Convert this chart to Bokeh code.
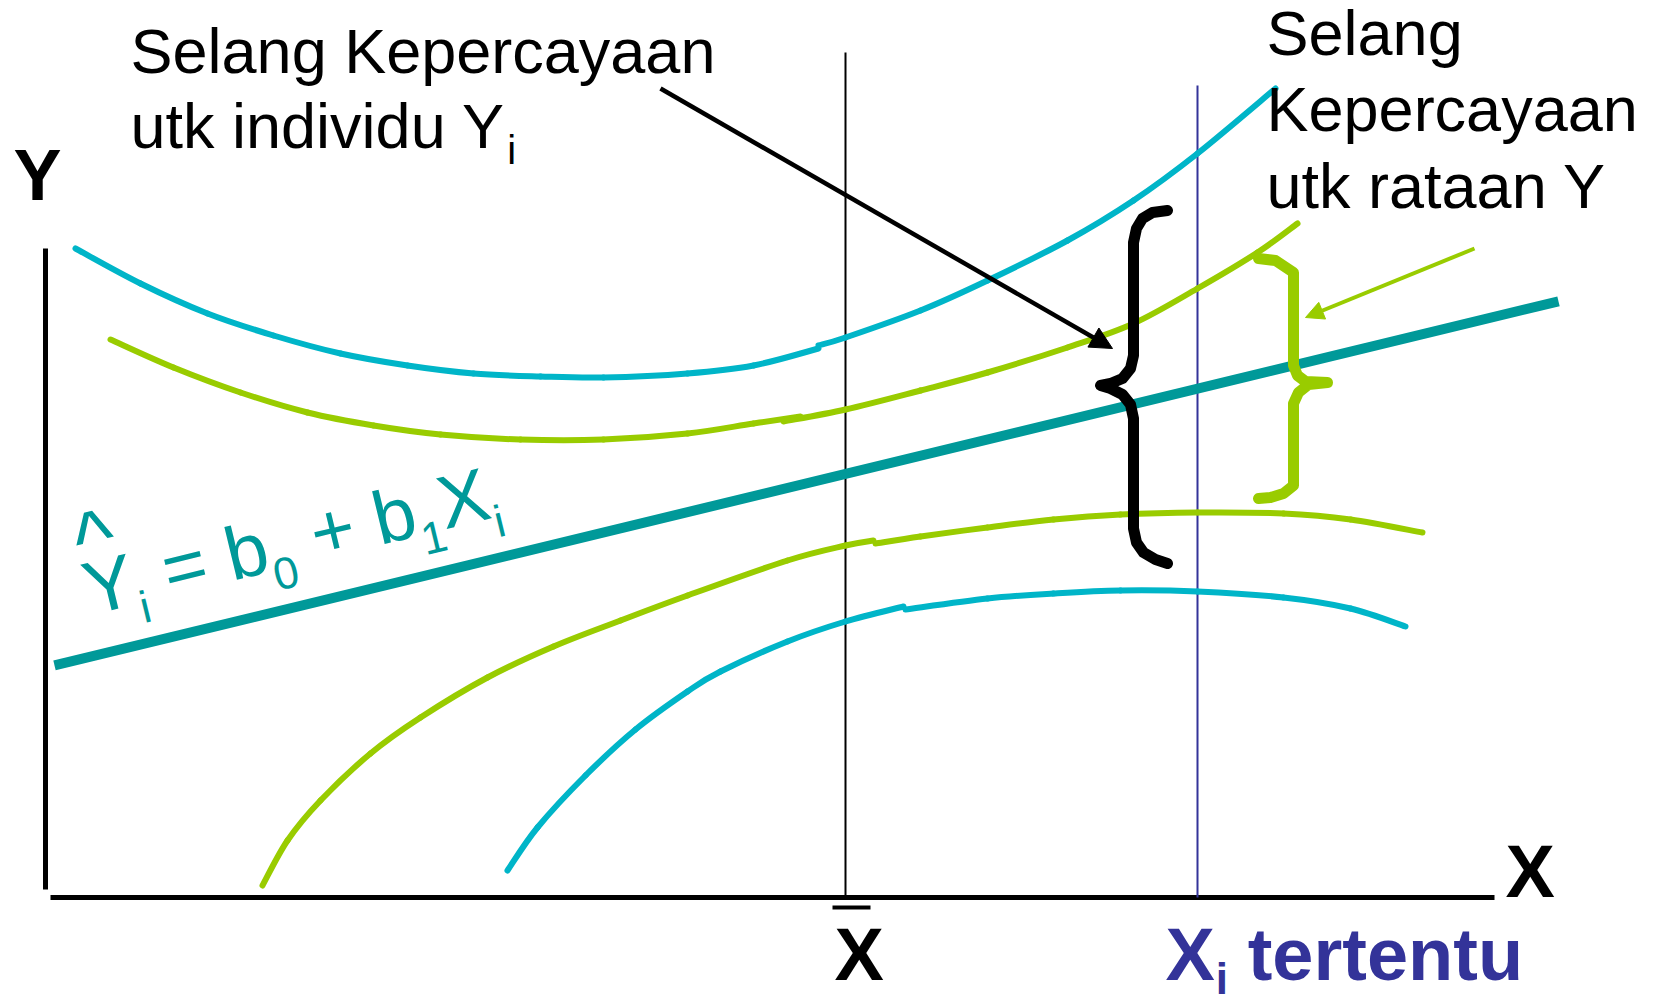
import math
from bokeh.plotting import figure
from bokeh.models import Range1d, Arrow, NormalHead, ColumnDataSource
from bokeh.core.properties import value
from bokeh.embed import file_html
from bokeh.resources import INLINE

FONT = "Liberation Sans"
CYAN = "#00B5C8"
GREEN = "#99CC00"
TEAL = "#009999"
NAVY = "#333399"

# ---- schematic data (origin = where the two axes meet, y upward) ----
# fitted line  Y^ = b0 + b1 X
b0, b1 = 230.0, 0.242
fit_x = [9, 1513]

x_mean = 800          # X-bar
x_given = 1152        # the chosen X_i
x_mean_top = 845
x_given_top = 812

y_axis_y = [8, 649]
x_axis_x = [5, 1449]

# prediction band (individual Y), drawn in two pieces each
pi_up_a_x = [30, 95, 162, 228, 295, 362, 428, 495, 558, 642, 708, 773]
pi_up_a_y = [649, 614, 584, 562, 544, 532, 524, 521, 520, 524, 532, 549]
pi_up_b_x = [773, 800, 875, 942, 1022, 1088, 1152, 1230]
pi_up_b_y = [552, 560, 587, 617, 657, 697, 744, 809]
pi_lo_a_x = [462, 492, 540, 590, 642, 675, 742, 800, 858]
pi_lo_a_y = [27, 70, 122, 168, 206, 226, 256, 276, 291]
pi_lo_b_x = [860, 942, 1008, 1075, 1152, 1238, 1305, 1360]
pi_lo_b_y = [288, 299, 304, 307, 306, 300, 289, 271]

# confidence band (mean Y)
ci_up_a_x = [65, 128, 195, 262, 328, 395, 475, 558, 642, 708, 755]
ci_up_a_y = [558, 530, 505, 485, 472, 463, 458, 458, 464, 474, 481]
ci_up_b_x = [738, 800, 875, 942, 1022, 1088, 1152, 1212, 1252]
ci_up_b_y = [476, 488, 507, 525, 550, 574, 609, 645, 674]
ci_lo_a_x = [217, 242, 275, 325, 375, 442, 508, 575, 642, 742, 800, 828]
ci_lo_a_y = [12, 57, 97, 144, 180, 220, 251, 277, 302, 337, 352, 357]
ci_lo_b_x = [830, 875, 942, 1008, 1075, 1152, 1238, 1305, 1377]
ci_lo_b_y = [354, 361, 370, 378, 383, 385, 384, 378, 365]

# braces marking the two intervals at X_i
brace_pi_x = [1122, 1107, 1097, 1091, 1088, 1088, 1085, 1077, 1065, 1055,
              1065, 1077, 1085, 1088, 1088, 1091, 1098, 1110, 1122]
brace_pi_y = [687, 685, 679, 669, 655, 542, 529, 519, 514, 512,
              509, 503, 493, 479, 369, 355, 345, 338, 334]
brace_ci_x = [1213, 1230, 1248, 1248, 1252, 1260, 1282, 1263, 1253, 1248, 1248, 1238, 1225, 1213]
brace_ci_y = [639, 637, 625, 532, 522, 516, 515, 513, 505, 494, 412, 404, 400, 399]

# callout arrows (start, end)
arrow_pi = (615, 809, 1067, 549)
arrow_ci = (1429, 649, 1260, 580)

p = figure(width=1654, height=995, x_range=Range1d(-45, 1609), y_range=Range1d(-98, 897),
           output_backend="svg", toolbar_location=None, min_border=0,
           x_axis_type=None, y_axis_type=None)
p.grid.visible = False
p.outline_line_color = None
p.background_fill_color = "white"
p.border_fill_color = "white"


def smooth(xs, ys, color, width):
    """Draw a smooth (Catmull-Rom style) curve through the given points."""
    n = len(xs)
    x0, y0, x1, y1, cx0, cy0, cx1, cy1 = ([] for _ in range(8))
    for i in range(n - 1):
        a = max(i - 1, 0)
        d = min(i + 2, n - 1)
        x0.append(xs[i]); y0.append(ys[i])
        x1.append(xs[i + 1]); y1.append(ys[i + 1])
        cx0.append(xs[i] + (xs[i + 1] - xs[a]) / 6)
        cy0.append(ys[i] + (ys[i + 1] - ys[a]) / 6)
        cx1.append(xs[i + 1] - (xs[d] - xs[i]) / 6)
        cy1.append(ys[i + 1] - (ys[d] - ys[i]) / 6)
    p.bezier(x0=x0, y0=y0, x1=x1, y1=y1, cx0=cx0, cy0=cy0, cx1=cx1, cy1=cy1,
             line_color=color, line_width=width, line_cap="round")


# axes
p.line([0, 0], y_axis_y, line_color="black", line_width=5)
p.line(x_axis_x, [0, 0], line_color="black", line_width=5)

# reference verticals
p.line([x_mean, x_mean], [0, x_mean_top], line_color="black", line_width=2)
p.line([x_given, x_given], [0, x_given_top], line_color=NAVY, line_width=2)

# bands
for xs, ys, c in [(pi_up_a_x, pi_up_a_y, CYAN), (pi_up_b_x, pi_up_b_y, CYAN),
                  (pi_lo_a_x, pi_lo_a_y, CYAN), (pi_lo_b_x, pi_lo_b_y, CYAN),
                  (ci_up_a_x, ci_up_a_y, GREEN), (ci_up_b_x, ci_up_b_y, GREEN),
                  (ci_lo_a_x, ci_lo_a_y, GREEN), (ci_lo_b_x, ci_lo_b_y, GREEN)]:
    smooth(xs, ys, c, 6)

# fitted line
p.line(fit_x, [b0 + b1 * x for x in fit_x], line_color=TEAL, line_width=10)

# braces
p.line(brace_pi_x, brace_pi_y, line_color="black", line_width=11, line_cap="round", line_join="round")
p.line(brace_ci_x, brace_ci_y, line_color=GREEN, line_width=11, line_cap="round", line_join="round")

# arrows
p.add_layout(Arrow(x_start=arrow_pi[0], y_start=arrow_pi[1], x_end=arrow_pi[2], y_end=arrow_pi[3],
                   line_color="black", line_width=4.5,
                   end=NormalHead(size=22, fill_color="black", line_color="black", line_width=1)))
p.add_layout(Arrow(x_start=arrow_ci[0], y_start=arrow_ci[1], x_end=arrow_ci[2], y_end=arrow_ci[3],
                   line_color=GREEN, line_width=4,
                   end=NormalHead(size=18, fill_color=GREEN, line_color=GREEN, line_width=1)))

# Arial/Liberation advance widths (em) for laying out sub/superscripts
REG = {'Y': .667, 'i': .222, ' ': .278, '=': .584, 'b': .556, '0': .556, '+': .584,
       '1': .556, 'X': .667, 'u': .556, 't': .278, 'k': .5, 'n': .556, 'd': .556, 'v': .5}
BOLD = {'X': .667, 'i': .278, ' ': .278}
# the renderer sets text this far (in em) below the requested alphabetic baseline
BASE_FIX = 0.39


def width(s, size, table=REG):
    return sum(table[c] for c in s) * size


def label(x, y, text, size, color="black", bold=False):
    p.text(x=[x], y=[y + BASE_FIX * size], text=[text],
           text_font=value(FONT), text_font_size=value(f"{size}px"),
           text_font_style="bold" if bold else "normal",
           text_color=color, text_align="left", text_baseline="alphabetic")


# axis names
label(-32, 694, "Y", 72, bold=True)
label(1460, -3, "X", 74, bold=True)

# X-bar under the axis
label(789, -86, "X", 74, bold=True)
p.line([787, 825], [-10, -10], line_color="black", line_width=4)

# X_i tertentu
label(1120, -86, "X", 74, color=NAVY, bold=True)
sx = 1120 + width("X", 74, BOLD)
label(sx + 1, -98, "i", 44, color=NAVY, bold=True)
label(sx + width("i", 44, BOLD) + width(" ", 74, BOLD), -86, "tertentu", 74, color=NAVY, bold=True)

# interval captions
label(85, 822, "Selang Kepercayaan", 63)
label(85, 747, "utk individu Y", 63)
label(85 + width("utk individu Y", 63) + 2, 732, "i", 40)

label(1221, 840, "Selang", 63)
label(1221, 764, "Kepercayaan", 63)
label(1221, 687, "utk rataan Y", 63)

# equation of the fitted line, written parallel to it
theta = math.atan(b1)
ux, uy = math.cos(theta), math.sin(theta)
nx, ny = -uy, ux
eq_x0, eq_y0 = 46, 279
EQ = 75
SUB = 45
DROP = 19
GAP = REG[' '] * EQ
pieces = [("Y", EQ, 0, 0), ("i", SUB, DROP, GAP), ("=", EQ, 0, GAP), ("b", EQ, 0, 0),
          ("0", SUB, DROP, GAP), ("+", EQ, 0, GAP), ("b", EQ, 0, 0), ("1", SUB, DROP, 0),
          ("X", EQ, 0, 0), ("i", SUB, DROP, 0)]
ex, ey, et, es = [], [], [], []
along = 0.0
for s, size, drop, gap in pieces:
    lift = BASE_FIX * size - drop
    ex.append(eq_x0 + along * ux + lift * nx)
    ey.append(eq_y0 + along * uy + lift * ny)
    et.append(s)
    es.append(f"{size}px")
    along += width(s, size) + gap
# hat over Y
HAT = 84
ex.append(eq_x0 + 2 * ux + (43 + BASE_FIX * HAT) * nx)
ey.append(eq_y0 + 2 * uy + (43 + BASE_FIX * HAT) * ny)
et.append("^")
es.append(f"{HAT}px")
src = ColumnDataSource(dict(x=ex, y=ey, text=et, size=es))
p.text(x="x", y="y", text="text", source=src, angle=theta,
       text_font=value(FONT), text_font_size="size", text_color=TEAL,
       text_align="left", text_baseline="alphabetic")

open("out.html", "w").write(file_html(p, INLINE))
